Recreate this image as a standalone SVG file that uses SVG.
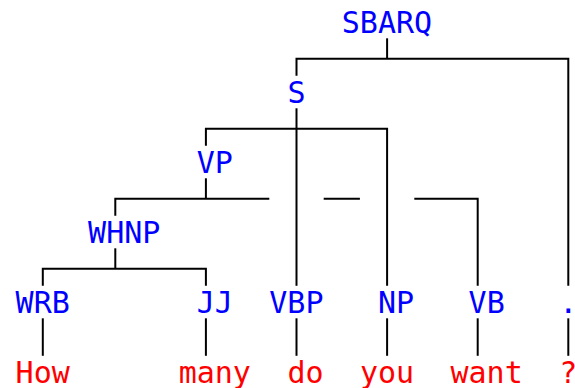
<svg xmlns="http://www.w3.org/2000/svg" width="575" height="388" viewBox="0 0 575 388">
<style>
text{font-family:"DejaVu Sans Mono","Liberation Mono",monospace;font-size:30px}
.lab{fill:#0000ff}
.word{fill:#ff0000}
#connectors path{fill:none;stroke:#000;stroke-width:2;stroke-linejoin:miter;stroke-linecap:butt}
</style>
<rect width="575" height="388" fill="#fff"/>
<g id="connectors">
<path d="M387.1,38.3V58.8"/>
<path d="M296.5,75.8V58.8H568.3V285.8"/>
<path d="M296.5,108.3V285.8"/>
<path d="M205.9,145.8V128.8H387.1V285.8"/>
<path d="M205.9,178.3V198.8"/>
<path d="M115.3,215.8V198.8H269.3"/>
<path d="M323.7,198.8H359.9"/>
<path d="M414.3,198.8H477.7V285.8"/>
<path d="M115.3,248.3V268.8"/>
<path d="M42.8,285.8V268.8H205.9V285.8"/>
<path d="M42.8,318.3V355.8"/>
<path d="M205.9,318.3V355.8"/>
<path d="M296.5,318.3V355.8"/>
<path d="M387.1,318.3V355.8"/>
<path d="M477.7,318.3V355.8"/>
<path d="M568.3,318.3V355.8"/>
</g>
<g id="SBARQ"><text class="lab" x="341.8" y="33.3">SBARQ</text></g>
<g id="S"><text class="lab" x="287.4" y="103.3">S</text></g>
<g id="VP"><text class="lab" x="196.8" y="173.3">VP</text></g>
<g id="WHNP"><text class="lab" x="88.1" y="243.3">WHNP</text></g>
<g id="WRB"><text class="lab" x="15.6" y="313.3">WRB</text></g>
<g id="JJ"><text class="lab" x="196.8" y="313.3">JJ</text></g>
<g id="VBP"><text class="lab" x="269.3" y="313.3">VBP</text></g>
<g id="NP"><text class="lab" x="378.0" y="313.3">NP</text></g>
<g id="VB"><text class="lab" x="468.6" y="313.3">VB</text></g>
<g id="PUNCT"><text class="lab" x="559.2" y="313.3">.</text></g>
<g id="w-How"><text class="word" x="15.6" y="383.3">How</text></g>
<g id="w-many"><text class="word" x="178.7" y="383.3">many</text></g>
<g id="w-do"><text class="word" x="287.4" y="383.3">do</text></g>
<g id="w-you"><text class="word" x="359.9" y="383.3">you</text></g>
<g id="w-want"><text class="word" x="450.5" y="383.3">want</text></g>
<g id="w-q"><text class="word" x="559.2" y="383.3">?</text></g>
</svg>
